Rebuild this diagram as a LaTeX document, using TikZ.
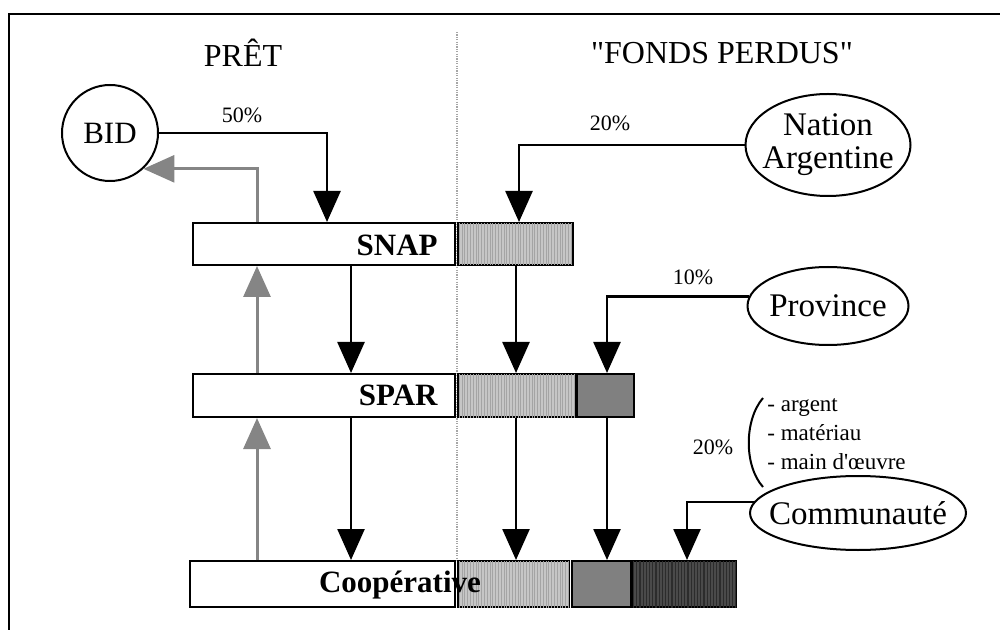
\documentclass[tikz,border=0pt]{standalone}
\usepackage{fontspec}
\setmainfont{Liberation Serif}
\newfontfamily\rawserif{Liberation Serif}
\usetikzlibrary{arrows.meta,fit,shapes.geometric,patterns.meta}
\definecolor{lgray}{HTML}{C6C6C6}
\definecolor{lgrayline}{HTML}{A4A4A4}
\definecolor{mgray}{HTML}{808080}
\definecolor{dgray}{HTML}{4A4A4A}
\definecolor{dgrayline}{HTML}{2C2C2C}
\definecolor{arrgray}{HTML}{858585}
\tikzset{
  box/.style={draw, line width=1pt, inner sep=0pt},
  whitebox/.style={box, fill=white},
  lightbox/.style={box, fill=lgray, postaction={pattern={Lines[angle=90,distance=1.4pt,line width=0.45pt]}, pattern color=lgrayline}},
  midbox/.style={box, fill=mgray},
  darkbox/.style={box, fill=dgray, postaction={pattern={Lines[angle=90,distance=1.6pt,line width=0.55pt]}, pattern color=dgrayline}},
  conn/.style={line width=1.25pt, -{Triangle[width=13.5pt,length=15.5pt]}},
  gconn/.style={line width=1.5pt, draw=arrgray, -{Triangle[width=13.5pt,length=15.5pt]}},
  oval/.style={draw, line width=1pt, ellipse, inner xsep=-8pt, inner ysep=-4pt, font=\fontsize{16.5}{16.5}\selectfont, align=center},
  boxlabel/.style={font=\bfseries\fontsize{15.5}{17}\selectfont, inner sep=0pt},
  title/.style={font=\fontsize{16}{18}\selectfont, inner sep=0pt},
  pct/.style={font=\fontsize{11}{13}\selectfont, inner sep=0pt},
}
\begin{document}
\begin{tikzpicture}[x=0.5pt,y=-0.5pt]
\useasboundingbox (0,0) rectangle (1000,630);
% frame
\draw[line width=1pt] (1000,14) -- (9,14) -- (9,630);
% divider
\draw[draw=gray!70, line width=0.7pt, dash pattern=on 0.6pt off 0.6pt] (457,32) -- (457,561);
% titles
\node[title] (pret) at (243,53) {PRÊT};
\node[title] (fonds) at (722,53) {\rawserif "FONDS PERDUS"};
% boxes
\node[whitebox, fit={(193,223) (455,265)}] (snap) {};
\node[lightbox, fit={(458,223) (573,265)}] (snapL) {};
\node[whitebox, fit={(193,374) (455,417)}] (spar) {};
\node[lightbox, fit={(458,374) (575,417)}] (sparL) {};
\node[midbox, fit={(577,374) (634,417)}] (sparD) {};
\node[whitebox, fit={(190,561) (455,607)}] (coop) {};
\node[lightbox, fit={(458,561) (569,607)}] (coopL) {};
\node[midbox, fit={(572,561) (631,607)}] (coopM) {};
\node[darkbox, fit={(633,561) (736,607)}] (coopD) {};
\node[boxlabel, anchor=east] (snaptxt) at (438,245) {SNAP};
\node[boxlabel, anchor=east] (spartxt) at (438,395) {SPAR};
\node[boxlabel] (cooptxt) at (400,585) {Coopérative};
% sources
\node[draw, circle, line width=1pt, minimum size=48pt, inner sep=0pt, font=\fontsize{15.5}{16}\selectfont] (bid) at (110,133) {BID};
\node[oval, minimum width=82.5pt, minimum height=51pt] (nation) at (828,145) {Nation\\Argentine};
\node[oval, minimum width=80.5pt, minimum height=39pt] (province) at (828,306) {Province};
\node[oval, minimum width=108pt, minimum height=37pt] (comm) at (858,513) {Communauté};
% percentages
\node[pct] (p50) at (242,115) {50\%};
\node[pct] (p20a) at (610,123) {20\%};
\node[pct] (p10) at (693,277) {10\%};
\node[pct] (p20b) at (713,447) {20\%};
\node[font=\rawserif\fontsize{11.5}{14.5}\selectfont, align=left, anchor=west, inner sep=0pt] (list) at (767,434) {- argent\\- matériau\\- main d'œuvre};
\draw[line width=1pt] (763,398) .. controls (744,420) and (744,466) .. (763,487);
% black flows
\draw[conn] (bid.east) -| ([xshift=67.5pt]snap.north west);
\draw[conn] ([xshift=79.5pt]snap.south west) -- ([xshift=79.5pt]spar.north west);
\draw[conn] ([xshift=79.5pt]spar.south west) -- ([xshift=81pt]coop.north west);
\draw[conn] (nation.west) -| ([xshift=31pt]snapL.north west);
\draw[conn] ([xshift=29.5pt]snapL.south west) -- ([xshift=29.5pt]sparL.north west);
\draw[conn] ([xshift=29.5pt]sparL.south west) -- ([xshift=29.5pt]coopL.north west);
\draw[conn] (province.173) -| ([xshift=15.5pt]sparD.north west);
\draw[conn] ([xshift=15.5pt]sparD.south west) -- ([xshift=18pt]coopM.north west);
\draw[conn] (comm.174) -| ([xshift=27.5pt]coopD.north west);
% grey repayments
\draw[gconn] ([xshift=34pt]coop.north west) -- ([xshift=32.5pt]spar.south west);
\draw[gconn] ([xshift=32.5pt]spar.north west) -- ([xshift=32.5pt]snap.south west);
\draw[gconn] ([xshift=32.5pt]snap.north west) |- (bid.-47);
\end{tikzpicture}
\end{document}
